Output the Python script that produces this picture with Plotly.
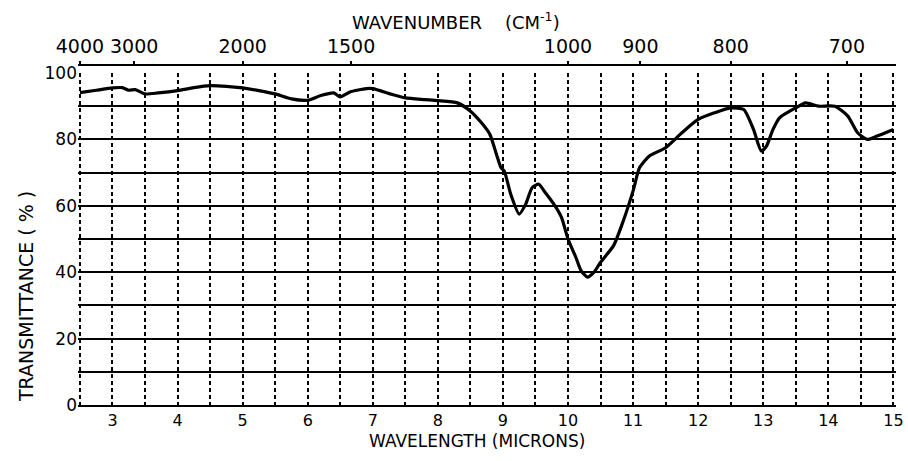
import plotly.graph_objects as go

# ---- data ----
wavelength_um = [2.5, 2.75, 3.0, 3.15, 3.25, 3.35, 3.5, 3.7, 4.0, 4.25, 4.5, 4.75, 5.0, 5.25,
                 5.5, 5.75, 6.0, 6.2, 6.4, 6.5, 6.65, 6.9, 7.0, 7.3, 7.5, 7.8, 8.0, 8.3, 8.5,
                 8.67, 8.8, 8.9, 8.97, 9.02, 9.12, 9.25, 9.35, 9.45, 9.55, 9.65, 9.8, 9.9,
                 10.0, 10.12, 10.2, 10.3, 10.4, 10.5, 10.7, 10.85, 11.0, 11.1, 11.25, 11.5,
                 11.75, 12.0, 12.25, 12.5, 12.7, 12.85, 12.97, 13.05, 13.15, 13.25, 13.5,
                 13.65, 13.85, 14.1, 14.3, 14.45, 14.6, 14.75, 15.0]
transmittance = [94.1, 94.8, 95.5, 95.6, 94.8, 95.0, 93.7, 94.0, 94.7, 95.6, 96.2, 96.0, 95.5, 94.7,
                 93.7, 92.2, 91.8, 93.2, 94.0, 92.8, 94.3, 95.3, 95.3, 93.5, 92.5, 92.0, 91.7, 91.0, 88.5,
                 85.0, 81.5, 75.5, 71.5, 70.5, 63.5, 57.5, 60.5, 65.5, 66.5, 64.0, 60.0, 56.5,
                 50.0, 44.5, 40.5, 38.5, 40.0, 43.0, 48.0, 55.5, 64.5, 71.5, 75.0, 77.5,
                 82.0, 86.0, 88.0, 89.5, 89.0, 83.0, 76.5, 78.0, 83.0, 86.5, 89.5,
                 91.0, 90.0, 90.0, 87.0, 82.0, 80.0, 81.0, 83.0]

wavelength_ticks = [2.5 + 0.5 * i for i in range(26)]
wavelength_labels = [str(int(v)) if float(v).is_integer() and v >= 3 else " " for v in wavelength_ticks]
wavenumber_ticks = [4000, 3000, 2000, 1500, 1000, 900, 800, 700]
trans_ticks = list(range(0, 101, 10))
trans_labels = [str(v) if v % 20 == 0 else " " for v in trans_ticks]

FONT = "DejaVu Sans"
X_RANGE = [2.47, 15.04]
L, R = 78, 12
PW = 908 - L - R

fig = go.Figure()
fig.add_trace(go.Scatter(
    x=wavelength_um, y=transmittance, mode="lines",
    line=dict(color="black", width=3.2, shape="spline", smoothing=0.6),
    showlegend=False, hoverinfo="skip"))
# invisible trace to activate the top wavenumber axis
fig.add_trace(go.Scatter(x=X_RANGE, y=[None, None], xaxis="x2", yaxis="y",
                         mode="lines", showlegend=False, hoverinfo="skip"))

fig.update_layout(
    width=908, height=461,
    margin=dict(l=L, r=R, t=65, b=56, autoexpand=False),
    paper_bgcolor="white", plot_bgcolor="white",
    font=dict(family=FONT, color="black"),
    xaxis=dict(
        range=X_RANGE, tickmode="array", tickvals=wavelength_ticks, ticktext=wavelength_labels,
        showgrid=True, gridcolor="black", gridwidth=1.5, griddash="4px,3px",
        ticks="", zeroline=False, showline=True, linecolor="black", linewidth=2,
        ticklabeloverflow="allow", automargin=False,
        tickfont=dict(size=16, family=FONT, color="black"),
    ),
    xaxis2=dict(
        overlaying="x", matches="x", side="top", anchor="free", position=1,
        range=X_RANGE, tickmode="array",
        tickvals=[10000.0 / w for w in wavenumber_ticks],
        ticktext=[str(w) for w in wavenumber_ticks],
        showgrid=False, zeroline=False, showline=True, linecolor="black", linewidth=2,
        ticks="outside", ticklen=3, tickwidth=2, tickcolor="black",
        ticklabeloverflow="allow", automargin=False,
        tickfont=dict(size=19, family=FONT, color="black"),
    ),
    yaxis=dict(
        domain=[0, 332 / 340], range=[0, 100], tickmode="array",
        tickvals=trans_ticks, ticktext=trans_labels,
        showgrid=True, gridcolor="black", gridwidth=2,
        ticks="", zeroline=False, showline=False, automargin=False,
        tickfont=dict(size=17, family=FONT, color="black"),
    ),
    annotations=[
        dict(text="WAVENUMBER    (CM<sup>-1</sup>)", xref="paper", yref="paper",
             x=(456 - L) / PW, y=1 + (65 - 21) / 340, xanchor="center", yanchor="middle",
             showarrow=False, font=dict(size=18, family=FONT, color="black")),
        dict(text="WAVELENGTH (MICRONS)", xref="paper", yref="paper",
             x=(477 - L) / PW, y=1 - (441 - 65) / 340, xanchor="center", yanchor="middle",
             showarrow=False, font=dict(size=17, family=FONT, color="black")),
        dict(text="TRANSMITTANCE ( % )", xref="paper", yref="paper", textangle=-90,
             x=(26 - L) / PW, y=1 - (297 - 65) / 340, xanchor="center", yanchor="middle",
             showarrow=False, font=dict(size=19, family=FONT, color="black")),
    ],
)

fig.write_html("out.html")
